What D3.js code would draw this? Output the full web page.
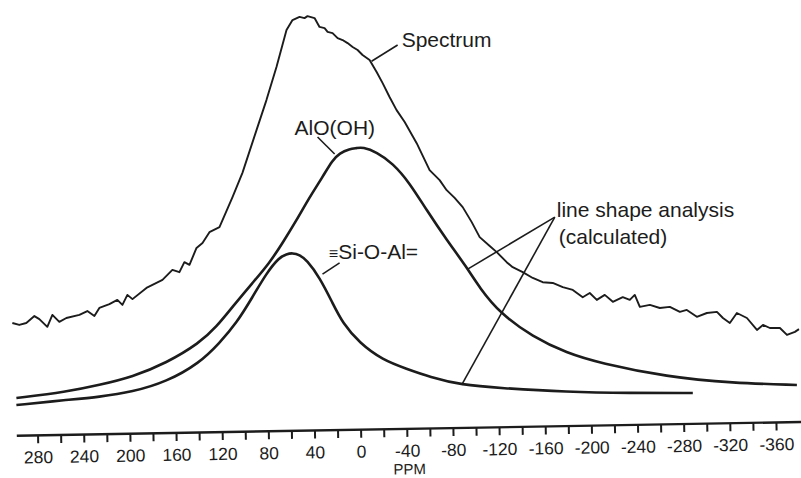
<!DOCTYPE html>
<html>
<head>
<meta charset="utf-8">
<script src="https://cdn.jsdelivr.net/npm/d3@7"></script>
<style>
  body { margin: 0; background: #fff; }
  svg { display: block; }
</style>
</head>
<body>
<div id="chart"></div>
<script>
// Width and height
var chart_width  = 801;
var chart_height = 478;

// chemical shift (ppm) and relative intensity
var spectrum_ppm = [301.8, 295.8, 289.7, 282.7, 278.4, 271.5, 267.1, 261.1, 255.0, 243.7,
    236.8, 230.7, 226.4, 217.7, 210.8, 206.4, 202.1, 197.7, 185.6, 176.9,
    171.7, 163.1, 157.0, 152.7, 148.3, 142.2, 137.0, 131.0, 122.3, 111.0,
    102.4, 90.2, 81.6, 72.9, 64.2, 59.0, 52.9, 48.6, 46.0, 39.9,
    35.6, 31.2, 28.6, 24.3, 19.9, 15.6, 11.3, 6.9, 2.6, -1.7,
    -7.8, -13.9, -19.1, -25.1, -31.2, -38.2, -48.6, -59.8, -68.5, -74.6,
    -81.5, -88.5, -96.3, -103.2, -111.9, -118.0, -126.6, -131.8, -140.5, -149.2,
    -157.8, -166.5, -175.2, -183.9, -192.5, -198.6, -204.7, -211.6, -218.6, -227.2,
    -233.3, -237.6, -242.0, -250.7, -259.3, -268.0, -276.7, -282.7, -291.4, -300.1,
    -308.8, -314.0, -320.0, -326.1, -334.8, -343.5, -348.7, -354.7, -363.4, -369.5,
    -376.4, -379.9];
var spectrum_int = [20.0, 19.5, 20.0, 21.8, 21.0, 19.0, 22.1, 20.3, 21.3, 22.1,
    23.1, 21.8, 23.9, 24.9, 26.0, 24.7, 27.3, 26.2, 29.1, 30.4,
    31.2, 33.8, 33.2, 35.8, 35.1, 39.5, 40.8, 43.6, 44.9, 52.7,
    59.0, 70.1, 77.9, 86.5, 96.1, 98.7, 99.5, 99.2, 99.7, 99.2,
    96.9, 96.6, 95.6, 95.3, 94.0, 93.5, 92.7, 91.7, 90.9, 89.6,
    88.3, 85.2, 82.3, 78.7, 75.3, 72.2, 66.7, 59.7, 57.1, 54.5,
    52.5, 50.1, 46.2, 42.3, 40.0, 38.4, 35.8, 34.5, 33.2, 31.7,
    30.6, 30.4, 29.3, 28.6, 26.7, 27.8, 26.0, 27.3, 25.5, 26.7,
    26.0, 27.3, 24.2, 24.7, 23.9, 24.2, 22.9, 23.4, 21.6, 22.6,
    22.9, 21.3, 20.0, 22.6, 21.3, 18.2, 19.5, 18.7, 18.7, 16.9,
    17.7, 18.4];

// calculated line shape: AlO(OH)
var aloh_ppm = [298.3, 255.0, 226.4, 197.7, 168.3, 139.6, 124.9, 111.0, 93.7, 78.9,
    67.6, 55.5, 44.2, 33.0, 24.3, 18.2, 9.5, 3.5, -1.7, -13.9,
    -27.8, -42.5, -57.2, -74.6, -91.9, -103.2, -120.6, -149.2, -178.7, -207.3,
    -265.4, -322.6, -378.1];
var aloh_int = [0.5, 2.1, 3.9, 6.0, 9.6, 14.8, 19.0, 24.2, 30.4, 35.6,
    40.8, 46.7, 52.7, 57.9, 62.3, 64.1, 65.2, 65.4, 65.7, 64.4,
    61.5, 56.4, 49.3, 41.6, 34.5, 29.1, 22.6, 16.4, 12.2, 9.6,
    6.0, 4.4, 3.9];

// calculated line shape: Si-O-Al
var sioal_ppm = [298.3, 255.0, 226.4, 197.7, 168.3, 139.6, 122.3, 107.5, 93.7, 81.5,
    70.3, 64.2, 59.0, 52.9, 46.8, 35.6, 24.3, 15.6, 0.9, -19.1,
    -39.9, -59.8, -87.6, -120.6, -178.7, -233.3, -287.9];
var sioal_int = [-1.3, 0.0, 0.8, 2.1, 4.7, 9.6, 14.8, 20.0, 26.7, 33.0,
    37.1, 37.9, 38.2, 37.7, 36.4, 31.9, 25.2, 20.0, 14.8, 10.4,
    8.1, 6.0, 3.9, 3.1, 2.1, 1.8, 1.8];

// axis ticks every 20 ppm, labelled every 40
var tick_values = d3.range(280, -361, -20);
var axis_extent = [298, -382];
var axis_title  = "PPM";

// labels and their pointer lines (ppm, intensity)
var label_text = ["Spectrum", "AlO(OH)", "Si-O-Al=", "line shape analysis", "(calculated)"];
var label_ppm  = [-35.6, 57.2, 27.5, -170.0, -171.7];
var label_int  = [91.7, 68.8, 36.7, 47.5, 40.5];

var pointer_from_ppm = [-9.5, 37.3, 33.0, -168.3, -168.3];
var pointer_from_int = [88.0, 68.3, 32.7, 47.5, 47.5];
var pointer_to_ppm   = [-32.1, 22.5, 18.2, -92.8, -87.6];
var pointer_to_int   = [92.2, 63.9, 35.6, 34.0, 3.9];

var ink  = "#1c1c1c";
var font = "'Liberation Sans', Arial, Helvetica, sans-serif";

// scales: ppm runs right to left like on the instrument plot
var x = d3.scaleLinear().domain([280, -360]).range([37.5, 776]);
var y = d3.scaleLinear().domain([0, 100]).range([400, 15]);

var svg = d3.select("#chart")
    .append("svg")
    .attr("width", chart_width)
    .attr("height", chart_height);

svg.append("rect")
    .attr("width", chart_width)
    .attr("height", chart_height)
    .attr("fill", "#fff");

function pairs(p, v) {
    return p.map(function(d, i){ return [d, v[i]]; });
}

var jagged = d3.line()
    .x(function(d){ return x(d[0]); })
    .y(function(d){ return y(d[1]); });

var smooth = d3.line()
    .x(function(d){ return x(d[0]); })
    .y(function(d){ return y(d[1]); })
    .curve(d3.curveBasis);

svg.append("path")
    .attr("d", jagged(pairs(spectrum_ppm, spectrum_int)))
    .attr("fill", "none")
    .attr("stroke", ink)
    .attr("stroke-width", 1.9)
    .attr("stroke-linejoin", "round");

svg.append("path")
    .attr("d", smooth(pairs(aloh_ppm, aloh_int)))
    .attr("fill", "none")
    .attr("stroke", ink)
    .attr("stroke-width", 2.6);

svg.append("path")
    .attr("d", smooth(pairs(sioal_ppm, sioal_int)))
    .attr("fill", "none")
    .attr("stroke", ink)
    .attr("stroke-width", 2.6);

// x axis, the scan is tilted by about a degree
var axis = d3.axisBottom(x)
    .tickValues(tick_values)
    .tickSize(8)
    .tickSizeOuter(0)
    .tickPadding(7.5)
    .tickFormat(function(d){ return d % 40 === 0 ? String(d) : ""; });

var gx = svg.append("g")
    .attr("transform", "translate(0,429) rotate(-1,400,0)")
    .call(axis)
    .attr("font-family", font)
    .attr("font-size", 17.5);

gx.select(".domain").remove();
gx.append("line")
    .attr("x1", x(axis_extent[0]))
    .attr("x2", x(axis_extent[1]))
    .attr("stroke", ink)
    .attr("stroke-width", 2.4);
gx.selectAll(".tick line")
    .attr("stroke", ink)
    .attr("stroke-width", 2);
gx.selectAll(".tick text")
    .attr("fill", ink);

gx.append("text")
    .attr("x", x(-42))
    .attr("y", 45.5)
    .attr("text-anchor", "middle")
    .attr("font-size", 15)
    .attr("fill", ink)
    .text(axis_title);

// pointer lines
svg.selectAll(".pointer")
    .data(pointer_from_ppm)
    .enter()
    .append("line")
    .attr("class", "pointer")
    .attr("x1", function(d){ return x(d); })
    .attr("y1", function(d, i){ return y(pointer_from_int[i]); })
    .attr("x2", function(d, i){ return x(pointer_to_ppm[i]); })
    .attr("y2", function(d, i){ return y(pointer_to_int[i]); })
    .attr("stroke", ink)
    .attr("stroke-width", 1.6);

// labels
var labels = svg.selectAll(".label")
    .data(label_text)
    .enter()
    .append("text")
    .attr("class", "label")
    .attr("x", function(d, i){ return x(label_ppm[i]); })
    .attr("y", function(d, i){ return y(label_int[i]); })
    .attr("font-family", font)
    .attr("font-size", 21)
    .attr("fill", ink);

labels.each(function(d){
    var t = d3.select(this);
    if (d === "Si-O-Al=") {
        // small triple bar in front of the group
        t.append("tspan").attr("font-size", 16).text("\u2261");
    }
    t.append("tspan").text(d);
});
</script>
</body>
</html>
